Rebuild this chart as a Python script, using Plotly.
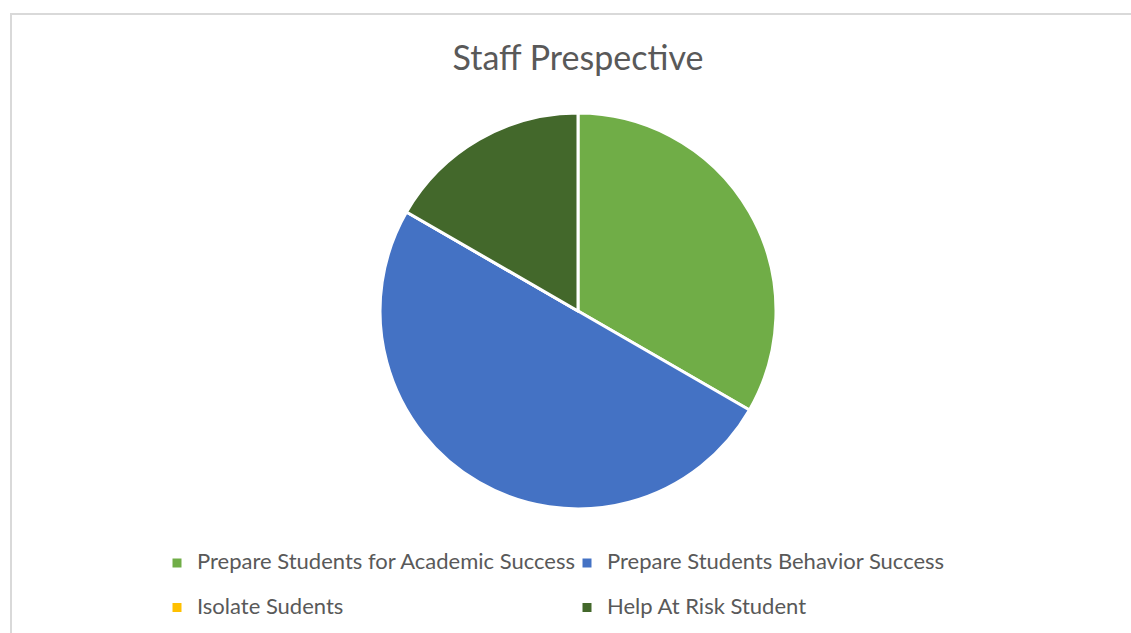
import plotly.graph_objects as go

# Survey responses by category
labels = [
    "Prepare Students for Academic Success",
    "Prepare Students Behavior Success",
    "Isolate Sudents",
    "Help At Risk Student",
]
values = [2, 3, 0, 1]
colors = ["#70ad47", "#4472c4", "#ffc000", "#43682b"]

W, H = 1131, 633
cx, cy, r = 578, 311, 198

# Legend entries: larger first line plus an empty second line,
# which gives the roomier row spacing of the two-column legend.
legend_labels = [
    '<span style="font-size:22px">%s</span><br> ' % lab for lab in labels
]

fig = go.Figure(
    go.Pie(
        labels=legend_labels,
        values=values,
        customdata=labels,
        sort=False,
        direction="clockwise",
        rotation=0,
        textinfo="none",
        hovertemplate="%{customdata}<br>%{value} (%{percent})<extra></extra>",
        marker=dict(colors=colors, line=dict(color="white", width=3)),
        domain=dict(
            x=[(cx - r) / W, (cx + r) / W],
            y=[1 - (cy + r) / H, 1 - (cy - r) / H],
        ),
    )
)

fig.update_layout(
    width=W,
    height=H,
    margin=dict(l=0, r=0, t=0, b=0, autoexpand=False),
    paper_bgcolor="white",
    plot_bgcolor="white",
    font=dict(family="Lato", color="#595959"),
    title=dict(
        text="Staff Prespective",
        x=cx / W,
        xanchor="center",
        y=1 - 58 / H,
        yanchor="middle",
        font=dict(family="Lato", size=34, color="#595959"),
    ),
    legend=dict(
        orientation="h",
        x=157 / W,
        xanchor="left",
        y=1 - 546 / H,
        yanchor="top",
        valign="top",
        entrywidth=365,
        entrywidthmode="pixels",
        font=dict(family="Lato", size=16, color="#595959"),
        bgcolor="rgba(0,0,0,0)",
    ),
    shapes=[
        dict(
            type="rect",
            xref="paper",
            yref="paper",
            x0=11 / W,
            x1=1.02,
            y0=-0.02,
            y1=1 - 14 / H,
            line=dict(color="#d9d9d9", width=2),
            fillcolor="rgba(0,0,0,0)",
            layer="below",
        )
    ],
)

fig.write_html("out.html")
